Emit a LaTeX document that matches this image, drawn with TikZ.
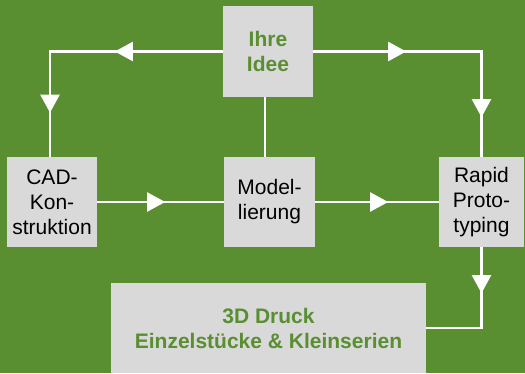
\documentclass[tikz,border=0pt]{standalone}
\usepackage{fontspec}
\setmainfont{Liberation Sans}
\usetikzlibrary{arrows.meta,decorations.markings,positioning}
\definecolor{leaf}{RGB}{89,142,49}
\definecolor{boxgray}{RGB}{217,217,217}

\begin{document}
\begin{tikzpicture}[x=1pt, y=-1pt, font=\fontsize{21}{25}\selectfont]
    \tikzset{wedge/.tip={Triangle[length=18pt, width=19pt]}}
    \tikzset{
      block/.style = {fill=boxgray, inner sep=0pt, align=center, text=black},
      idea/.style  = {block, text=leaf, font=\fontsize{21}{25}\selectfont\bfseries},
      flow/.style  = {draw=white, line width=2.2pt},
      tipat/.style = {postaction={decorate, decoration={markings, mark=at position #1 with {\arrow{wedge}}}}},
    }

    % background
    \fill[leaf] (0,0) rectangle (525,373);
    \useasboundingbox (0,0) rectangle (525,373);

    \node[idea,  minimum width=90pt, minimum height=91pt] (Idee)   at (268,51.5) {Ihre\\Idee};
    \node[block, minimum width=90pt, minimum height=90pt] (CAD)    at (52,202)   {CAD-\\Kon-\\struktion};
    \node[block, minimum width=91pt, minimum height=90pt] (Modell) at (269.5,202) {Model-\\lierung};
    \node[block, minimum width=85pt, minimum height=90pt] (Rapid)  at (481.5,202) {Rapid\\Proto-\\typing};
    \node[idea,  minimum width=315pt, minimum height=90pt] (Druck) at (268.5,328) {3D Druck\\Einzelst\"ucke \& Kleinserien};

    % from the idea to both sides
    \draw[flow, postaction={decorate, decoration={markings,
          mark=at position 108pt with {\arrow{wedge}},
          mark=at position 234pt with {\arrow{wedge}}}}]
      (Idee.west) -| ([xshift=-2pt]CAD.north);
    \draw[flow, postaction={decorate, decoration={markings,
          mark=at position 93pt with {\arrow{wedge}},
          mark=at position 234pt with {\arrow{wedge}}}}]
      (Idee.east) -| (Rapid.north);
    \draw[flow] ([xshift=-3pt]Idee.south) -- ([xshift=-4.5pt]Modell.north);

    % middle row
    \draw[flow, tipat=68pt] (CAD) -- (Modell);
    \draw[flow, tipat=73pt] (Modell) -- (Rapid);

    % down to the print
    \draw[flow, tipat=46pt] (Rapid.south) |- (Druck.east);
\end{tikzpicture}
\end{document}
